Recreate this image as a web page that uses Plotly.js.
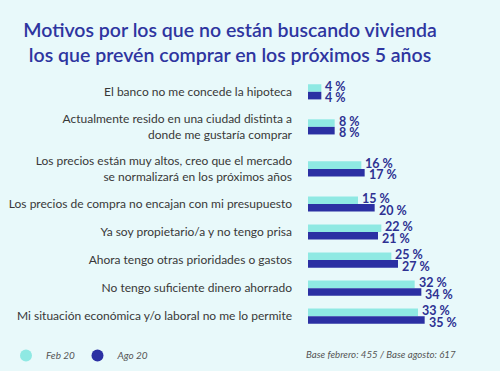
<!DOCTYPE html>
<html>
<head>
<meta charset="utf-8">
<script src="https://cdn.plot.ly/plotly-3.0.1.min.js"></script>
<style>html,body{margin:0;padding:0;background:#e8f9fa;}</style>
</head>
<body>
<div id="chart" style="width:500px;height:371px;"></div>
<script>
const categories = [
  "El banco no me concede la hipoteca",
  "Actualmente resido en una ciudad distinta a<br>donde me gustaría comprar",
  "Los precios están muy altos, creo que el mercado<br>se normalizará en los próximos años",
  "Los precios de compra no encajan con mi presupuesto",
  "Ya soy propietario/a y no tengo prisa",
  "Ahora tengo otras prioridades o gastos",
  "No tengo suficiente dinero ahorrado",
  "Mi situación económica y/o laboral no me lo permite"
];
const feb20 = [4, 8, 16, 15, 22, 25, 32, 33];
const ago20 = [4, 8, 17, 20, 21, 27, 34, 35];
const seriesNames = ["Feb 20", "Ago 20"];
const colors = ["#8fe9e3", "#2b30a3"];

// Row positions: rows whose label wraps to two lines get extra room
const halfRow = categories.map(c => 1 + 0.5 * (c.split("<br>").length - 1));
const rowPos = [];
categories.forEach((c, i) => {
  rowPos.push(i === 0 ? 0 : rowPos[i - 1] + halfRow[i - 1] + halfRow[i]);
});

const barTrace = (vals, i) => ({
  type: "bar", orientation: "h", y: rowPos, x: vals, name: seriesNames[i],
  marker: {color: colors[i]}, showlegend: false, hoverinfo: "skip"
});
const legendTrace = (i, lg) => ({
  type: "scatter", mode: "markers", x: [null], y: [null], name: seriesNames[i],
  marker: {color: colors[i], size: 12, symbol: "circle"}, showlegend: true, legend: lg, hoverinfo: "skip"
});

const data = [barTrace(feb20, 0), barTrace(ago20, 1), legendTrace(0, "legend"), legendTrace(1, "legend2")];

// Value labels, placed just past the end of each bar (upper label for Feb, lower for Ago)
const valFont = {family: "Lato, sans-serif", size: 12.5, color: "#2e3192", weight: 700};
const valueLabels = [];
[feb20, ago20].forEach((vals, s) => {
  vals.forEach((v, i) => {
    valueLabels.push({
      xref: "x", yref: "y", x: v, y: rowPos[i], text: v + " %", showarrow: false,
      xanchor: "left", yanchor: "middle", xshift: 2, yshift: s === 0 ? 5.5 : -6,
      font: valFont
    });
  });
});

const lastPos = rowPos[rowPos.length - 1];
const legFont = {family: "Lato, sans-serif", size: 10, color: "#555555", style: "italic"};

const layout = {
  width: 500, height: 371,
  paper_bgcolor: "#e8f9fa", plot_bgcolor: "#e8f9fa",
  margin: {l: 308, r: 42, t: 75, b: 38},
  title: {
    text: "Motivos por los que no están buscando vivienda<br>los que prevén comprar en los próximos 5 años",
    font: {family: "Lato, sans-serif", size: 19.5, color: "#2e35a0", weight: 600},
    x: 0.46, xanchor: "center", y: 0.9, yanchor: "middle"
  },
  barmode: "group", bargap: 0.46, bargroupgap: 0,
  xaxis: {range: [0, 45], visible: false, fixedrange: true},
  yaxis: {
    range: [lastPos + 1.2, -1.2], showgrid: false, zeroline: false, showline: false,
    tickmode: "array", tickvals: rowPos, ticktext: categories,
    ticks: "", ticklabelstandoff: 15,
    tickfont: {family: "Lato, sans-serif", size: 12, color: "#383838"}
  },
  showlegend: true,
  legend: {
    orientation: "h", xref: "container", yref: "container", x: 0.012, y: 0.081,
    xanchor: "left", yanchor: "top", font: legFont, bgcolor: "rgba(0,0,0,0)"
  },
  legend2: {
    orientation: "h", xref: "container", yref: "container", x: 0.155, y: 0.081,
    xanchor: "left", yanchor: "top", font: legFont, bgcolor: "rgba(0,0,0,0)"
  },
  annotations: valueLabels.concat([{
    xref: "paper", yref: "paper", x: 1.0, y: -0.08, xanchor: "right", yanchor: "middle",
    text: "Base febrero: 455 / Base agosto: 617", showarrow: false,
    font: {family: "Lato, sans-serif", size: 9.7, color: "#555555", style: "italic"}
  }])
};

Plotly.newPlot("chart", data, layout, {displayModeBar: false, staticPlot: true});
</script>
</body>
</html>
